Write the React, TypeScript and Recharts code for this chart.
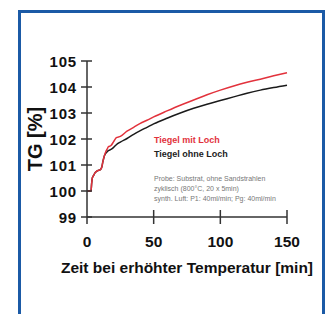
import React from "react";
import { LineChart, Line, XAxis, YAxis } from "recharts";

const times = [0, 2, 3, 3.5, 4, 5, 6, 8, 10, 11, 12, 13, 14, 15, 16, 18, 20, 22, 25, 30, 35, 40, 45, 50, 60, 70, 80, 90, 100, 110, 120, 130, 140, 150];
const mitLoch = [100, 100, 100, 100.3, 100.5, 100.6, 100.7, 100.78, 100.82, 100.9, 101.15, 101.35, 101.5, 101.6, 101.7, 101.75, 101.9, 102.05, 102.1, 102.3, 102.45, 102.6, 102.72, 102.85, 103.08, 103.3, 103.5, 103.7, 103.88, 104.04, 104.18, 104.3, 104.43, 104.55];
const ohneLoch = [100, 100, 100, 100.3, 100.5, 100.6, 100.7, 100.78, 100.82, 100.9, 101.15, 101.35, 101.45, 101.5, 101.55, 101.6, 101.68, 101.78, 101.88, 102.02, 102.18, 102.32, 102.45, 102.58, 102.8, 103.0, 103.18, 103.34, 103.48, 103.62, 103.76, 103.88, 103.98, 104.07];
const xTicks = [0, 50, 100, 150];
const yTicks = [99, 100, 101, 102, 103, 104, 105];
const notes = [
  "Probe: Substrat, ohne Sandstrahlen",
  "zyklisch (800°C, 20 x 5min)",
  "synth. Luft: P1: 40ml/min; Pg: 40ml/min",
];

const data = times.map((t, i) => ({ t, mit: mitLoch[i], ohne: ohneLoch[i] }));

const font = "'Liberation Sans', Arial, sans-serif";
const axisColor = "#333";

const YTick = (props: any) => {
  const { x, y, payload } = props;
  const ax = x + 10;
  return (
    <g>
      <line x1={ax} x2={ax + 5} y1={y} y2={y} stroke={axisColor} strokeWidth={1.5} />
      <text x={x} y={y} dy={5.5} textAnchor="end" fontFamily={font} fontWeight="bold" fontSize={15} letterSpacing={0.8} fill="#111">
        {payload.value}
      </text>
    </g>
  );
};

const XTick = (props: any) => {
  const { x, y, payload } = props;
  const ay = y - 18;
  return (
    <g>
      {payload.value !== 0 && (
        <line x1={x} x2={x} y1={ay - 7} y2={ay} stroke={axisColor} strokeWidth={1.5} />
      )}
      <text x={x} y={y} dy={11.5} textAnchor="middle" fontFamily={font} fontWeight="bold" fontSize={15.5} fill="#111">
        {payload.value}
      </text>
    </g>
  );
};

export default function App() {
  return (
    <div style={{ position: "absolute", left: 0, top: 0, width: 328, height: 314, background: "#fff", overflow: "hidden" }}>
      <div
        style={{
          position: "absolute",
          left: 18,
          top: 10,
          width: 301,
          height: 320,
          border: "3px solid #1b5aa6",
          borderBottom: "none",
        }}
      />
      <LineChart width={328} height={314} data={data} margin={{ top: 61, right: 41, bottom: 37, left: 0 }}>
        <XAxis
          dataKey="t"
          type="number"
          domain={[0, 150]}
          ticks={xTicks}
          height={60}
          stroke={axisColor}
          strokeWidth={1.5}
          tickSize={7}
          tickMargin={11}
          tick={<XTick />}
          label={{
            value: "Zeit bei erhöhter Temperatur [min]",
            position: "insideBottom",
            offset: 4,
            style: { fontFamily: font, fontWeight: "bold", fontSize: 15.5, fill: "#111" },
          }}
        />
        <YAxis
          type="number"
          domain={[99, 105]}
          ticks={yTicks}
          width={87}
          stroke={axisColor}
          strokeWidth={1.5}
          tickSize={6}
          tickMargin={4}
          tick={<YTick />}
          label={{
            value: "TG [%]",
            angle: -90,
            position: "insideLeft",
            offset: 35,
            style: { textAnchor: "middle", fontFamily: font, fontWeight: "bold", fontSize: 20, fill: "#111" },
          }}
        />
        <Line dataKey="ohne" stroke="#1a1a1a" strokeWidth={1.5} dot={false} isAnimationActive={false} type="monotone" />
        <Line dataKey="mit" stroke="#e2323c" strokeWidth={1.5} dot={false} isAnimationActive={false} type="monotone" />
      </LineChart>
      <div style={{ position: "absolute", left: 154, top: 135, fontFamily: font, fontWeight: "bold", fontSize: 9, color: "#e2323c", whiteSpace: "nowrap" }}>
        Tiegel mit Loch
      </div>
      <div style={{ position: "absolute", left: 154, top: 149, fontFamily: font, fontWeight: "bold", fontSize: 9, color: "#222", whiteSpace: "nowrap" }}>
        Tiegel ohne Loch
      </div>
      {notes.map((n, i) => (
        <div
          key={n}
          style={{ position: "absolute", left: 154, top: 175 + i * 10, fontFamily: font, fontSize: 7, color: "#777", whiteSpace: "nowrap" }}
        >
          {n}
        </div>
      ))}
    </div>
  );
}
